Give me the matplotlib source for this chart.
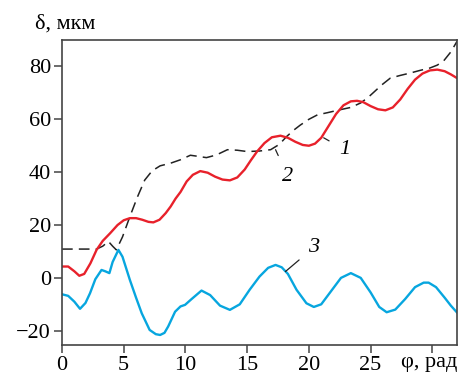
import matplotlib
matplotlib.use('Agg')
import matplotlib.pyplot as plt

# curve 1 (red)
phi_1 = [0, 0.5, 1.0, 1.4, 1.8, 2.3, 2.8, 3.3, 3.9, 4.5, 5.0, 5.5, 6.0, 6.5, 7.0, 7.4,
         7.9, 8.4, 8.8, 9.2, 9.6, 10.1, 10.6, 11.2, 11.8, 12.4, 13.0, 13.6, 14.2, 14.8,
         15.3, 15.8, 16.4, 17.0, 17.7, 18.3, 18.9, 19.5, 20.0, 20.5, 21.0, 21.6, 22.2,
         22.8, 23.4, 23.9, 24.4, 25.0, 25.6, 26.2, 26.8, 27.4, 28.0, 28.6, 29.2, 29.8,
         30.4, 31.0, 31.5, 32.0]
delta_1 = [4.3, 4.3, 2.5, 0.8, 1.5, 5.5, 10.6, 14.0, 16.9, 20.0, 21.8, 22.6, 22.6, 22.0,
           21.2, 21.0, 22.0, 24.5, 27.0, 30.0, 32.5, 36.5, 39.0, 40.4, 39.8, 38.3, 37.2,
           36.9, 38.0, 41.0, 44.5, 47.8, 51.0, 53.2, 53.8, 53.0, 51.5, 50.3, 50.0, 50.8,
           53.0, 57.5, 62.0, 65.3, 66.8, 67.0, 66.5, 65.0, 63.8, 63.4, 64.5, 67.5, 71.5,
           75.0, 77.3, 78.5, 78.8, 78.2, 77.0, 75.6]

# curve 2 (dashed)
phi_2 = [0, 2.8, 3.3, 3.76, 4.1, 4.4, 4.9, 5.5, 6.1, 6.7, 7.3, 7.95, 8.8, 9.6, 10.4,
         11.0, 11.7, 12.5, 13.4, 14.2, 15.0, 16.0, 16.9, 17.6, 18.2, 18.8, 19.3, 20.0,
         20.7, 21.5, 22.5, 23.4, 24.2, 24.8, 25.2, 25.9, 26.6, 27.4, 28.2, 29.0, 29.8,
         30.4, 30.9, 31.5, 32.0]
delta_2 = [10.9, 10.9, 12.0, 13.8, 12.0, 10.6, 15.5, 23.2, 30.5, 37.0, 40.5, 42.4, 43.4,
           44.7, 46.4, 46.0, 45.5, 46.5, 48.5, 48.3, 47.8, 48.0, 48.5, 50.5, 53.5, 56.0,
           57.8, 60.0, 61.7, 62.5, 63.6, 64.5, 66.2, 68.3, 70.0, 73.0, 75.6, 76.6, 77.5,
           78.5, 79.4, 80.5, 82.0, 85.5, 89.5]

# curve 3 (blue)
phi_3 = [0, 0.5, 1.0, 1.46, 1.9, 2.27, 2.7, 3.2, 3.5, 3.84, 4.1, 4.57, 4.9, 5.5, 6.0,
         6.46, 7.1, 7.6, 7.95, 8.3, 8.6, 9.16, 9.6, 9.97, 10.5, 11.3, 12.0, 12.8, 13.6,
         14.4, 15.2, 16.0, 16.7, 17.3, 17.8, 18.3, 19.0, 19.8, 20.4, 21.0, 21.8, 22.6,
         23.4, 24.2, 25.0, 25.7, 26.3, 27.0, 27.8, 28.6, 29.3, 29.7, 30.3, 31.0, 31.5, 32.0]
delta_3 = [-6.2, -6.8, -9.0, -11.7, -9.5, -5.8, -0.5, 3.0, 2.5, 1.8, 6.0, 10.6, 8.0, -0.8,
           -7.5, -13.4, -19.7, -21.3, -21.6, -20.8, -18.4, -12.8, -10.8, -10.2, -8.0, -4.8,
           -6.5, -10.5, -12.1, -10.0, -4.5, 0.5, 3.8, 4.9, 4.0, 1.5, -4.5, -9.6, -11.0,
           -10.0, -5.0, 0.0, 1.8, 0.0, -5.5, -11.0, -13.0, -12.0, -8.0, -3.5, -1.8, -1.8,
           -3.5, -7.5, -10.5, -13.1]

x_ticks = [0, 5, 10, 15, 20, 25, 30]
x_tick_labels = ['0', '5', '10', '15', '20', '25', '']
y_ticks = [-20, 0, 20, 40, 60, 80]

plt.rcParams['font.family'] = ['Liberation Serif', 'DejaVu Serif']

fig = plt.figure(figsize=(4.6, 3.74), dpi=100)
ax = fig.add_axes([0.1348, 0.0775, 0.8587, 0.8155])

ax.plot(phi_2, delta_2, color='#222222', lw=1.1, dashes=(7, 4))
ax.plot(phi_1, delta_1, color='#e8212b', lw=1.7, solid_joinstyle='round')
ax.plot(phi_3, delta_3, color='#07a6df', lw=1.7, solid_joinstyle='round')

ax.set_xlim(0, 32)
ax.set_ylim(-25.4, 90)
ax.set_xticks(x_ticks)
ax.set_xticklabels(x_tick_labels)
ax.set_yticks(y_ticks)
ax.tick_params(direction='out', length=6, width=1.1, color='#444444',
               labelsize=16, pad=2)
for spine in ax.spines.values():
    spine.set_color('#444444')
    spine.set_linewidth(1.2)

# curve labels with leader lines
ax.annotate('1', xy=(21.2, 53.0), xytext=(22.9, 48.5), fontsize=16, style='italic',
            ha='center', va='center',
            arrowprops=dict(arrowstyle='-', color='#222222', lw=0.9, shrinkA=6, shrinkB=0))
ax.annotate('2', xy=(17.3, 48.5), xytext=(18.3, 38.3), fontsize=16, style='italic',
            ha='center', va='center',
            arrowprops=dict(arrowstyle='-', color='#222222', lw=0.9, shrinkA=7, shrinkB=0))
ax.annotate('3', xy=(18.1, 2.4), xytext=(20.4, 11.5), fontsize=16, style='italic',
            ha='center', va='center',
            arrowprops=dict(arrowstyle='-', color='#222222', lw=0.9, shrinkA=6, shrinkB=0))

fig.text(35 / 460, 1 - 24 / 374, 'δ, мкм', fontsize=16, ha='left', va='center')
fig.text(457 / 460, 1 - 363 / 374, 'φ, рад', fontsize=16, ha='right', va='center')

fig.savefig('out.png', dpi=100)
